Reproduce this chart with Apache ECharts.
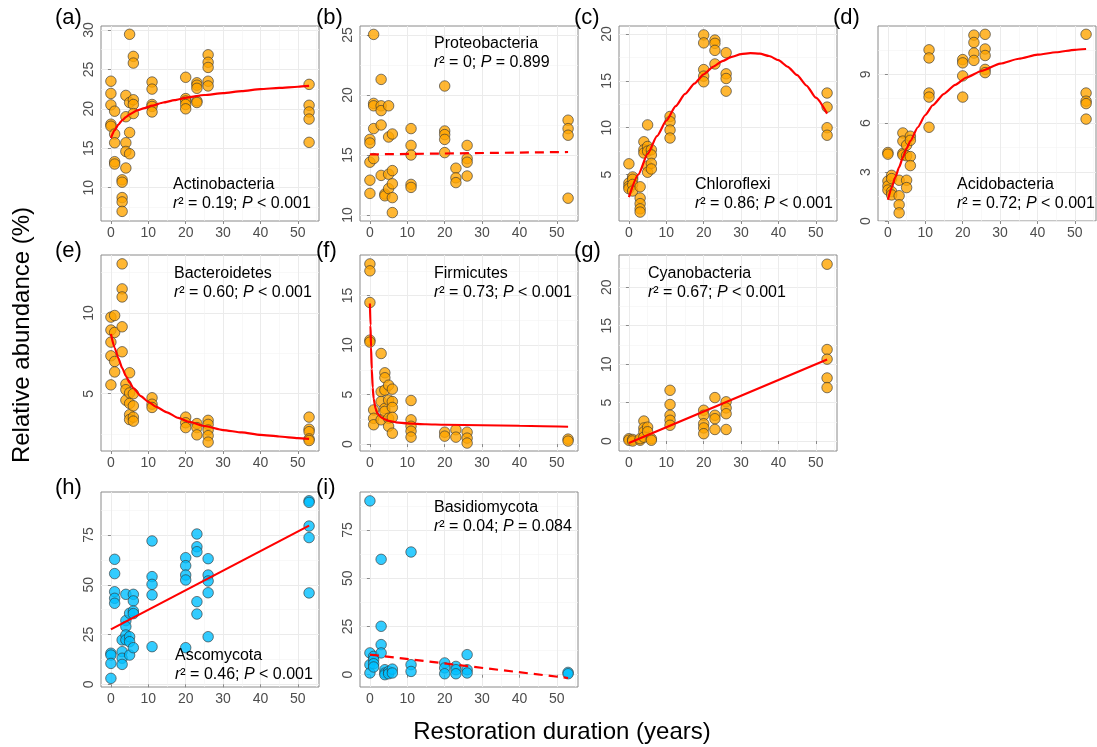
<!DOCTYPE html>
<html><head><meta charset="utf-8">
<script src="https://cdn.jsdelivr.net/npm/echarts@6/dist/echarts.min.js"></script>
<style>html,body{margin:0;padding:0;background:#fff}#c{width:1097px;height:747px}</style>
</head><body><div id="c"></div>
<script>
// ---------- tick labels ----------
const xMajorTicks = [0, 10, 20, 30, 40, 50];
const xMinorTicks = [5, 15, 25, 35, 45, 55];
const actinoTicks = [10, 15, 20, 25, 30];
const proteoTicks = [10, 15, 20, 25];
const chloroTicks = [5, 10, 15, 20];
const acidoTicks = [0, 3, 6, 9];
const bacteroTicks = [5, 10];
const firmiTicks = [0, 5, 10, 15];
const cyanoTicks = [0, 5, 10, 15, 20];
const fungiTicks = [0, 25, 50, 75];

// ---------- data: [restoration duration, relative abundance] ----------
const actinobacteria = [
  [0,23.5],[0,21.95],[0,20.5],[0,18.05],[0,17.8],
  [1,19.7],[1,16.8],[1,15.7],[1,13.3],[1,13.0],
  [3,11.0],[3,10.7],[3,8.75],[3,8.2],[3,7.0],
  [4,21.7],[4,19.0],[4,15.7],[4,14.6],[4,12.5],
  [5,29.45],[5,20.8],[5,17.0],[5,14.3],
  [6,26.65],[6,25.8],[6,21.15],[6,20.55],[6,19.4],
  [11,23.4],[11,22.5],[11,20.55],[11,20.3],[11,19.6],
  [20,24.0],[20,21.3],[20,21.0],[20,20.55],[20,20.0],
  [23,23.3],[23,23.0],[23,22.6],[23,21.0],[23,20.8],
  [26,26.85],[26,25.9],[26,25.25],[26,23.5],[26,22.9],
  [53,23.1],[53,20.45],[53,19.6],[53,18.7],[53,15.75]
];
const actinoFit = [[0,16.3],[1,17.3],[2,18.0],[3,18.55],[4,18.95],[5,19.3],[7,19.8],[9,20.1],[11,20.4],[14,20.8],[17,21.1],[20,21.4],[25,21.75],[30,22.0],[35,22.25],[40,22.5],[45,22.65],[50,22.8],[53,22.9]];

const proteobacteria = [
  [0,16.3],[0,16.0],[0,14.4],[0,12.9],[0,11.8],
  [1,25.05],[1,19.3],[1,19.1],[1,17.2],[1,14.7],
  [3,21.3],[3,19.1],[3,18.7],[3,17.5],[3,13.3],
  [4,11.75],[4,11.6],
  [5,19.1],[5,16.5],[5,13.4],[5,12.2],
  [6,16.75],[6,13.7],[6,12.6],[6,11.45],[6,10.2],
  [11,17.2],[11,15.8],[11,15.0],[11,12.55],[11,12.3],
  [20,20.75],[20,17.0],[20,16.7],[20,16.3],[20,15.2],
  [23,13.9],[23,13.1],[23,12.7],
  [26,15.8],[26,14.7],[26,14.4],[26,13.25],
  [53,17.9],[53,17.2],[53,16.65],[53,11.4]
];
const proteoFit = [[0,15.05],[53,15.25]];

const chloroflexi = [
  [0,6.15],[0,4.1],[0,3.75],[0,3.5],
  [1,4.75],[1,4.5],[1,3.95],[1,3.25],
  [3,3.7],[3,2.5],[3,1.9],[3,1.35],[3,1.0],
  [4,8.5],[4,7.65],[4,7.3],
  [5,10.3],[5,8.0],[5,7.5],[5,5.9],[5,5.25],
  [6,7.65],[6,7.1],[6,6.2],[6,5.6],
  [11,11.2],[11,10.65],[11,9.75],[11,8.9],
  [20,19.9],[20,19.05],[20,16.2],[20,15.5],[20,14.9],
  [23,19.35],[23,19.0],[23,18.25],[23,16.8],
  [26,18.0],[26,15.75],[26,15.25],[26,13.9],
  [53,13.7],[53,12.2],[53,10.0],[53,9.2]
];
const chloroFit = [[0,2.6],[2.5,5.0],[5,7.2],[7.5,9.1],[10,10.75],[12.5,12.3],[15,13.6],[17.5,14.7],[20,15.7],[22.5,16.5],[25,17.1],[27.5,17.55],[30,17.85],[32.5,17.95],[35,17.9],[37.5,17.65],[40,17.2],[42.5,16.5],[45,15.6],[47.5,14.5],[50,13.2],[53,11.5]];

const acidobacteria = [
  [0,4.2],[0,4.1],[0,2.45],[0,2.15],[0,1.9],
  [1,2.8],[1,2.6],[1,1.8],[1,1.6],
  [3,2.5],[3,1.55],[3,1.0],[3,0.5],
  [4,5.4],[4,4.9],[4,4.15],[4,4.05],
  [5,4.65],[5,4.0],[5,2.5],[5,2.05],
  [6,5.2],[6,4.95],[6,3.95],[6,3.4],
  [11,10.5],[11,10.0],[11,7.85],[11,7.6],[11,5.75],
  [20,9.9],[20,9.7],[20,8.9],[20,7.6],
  [23,11.4],[23,10.95],[23,10.3],[23,9.85],
  [26,11.45],[26,10.55],[26,10.15],[26,9.3],[26,9.1],
  [53,11.45],[53,7.85],[53,7.35],[53,7.2],[53,6.25]
];
const acidoFit = [[0,1.3],[1,2.05],[2,2.7],[3,3.3],[4,3.9],[5,4.45],[6,4.9],[8,5.75],[10,6.5],[12,7.1],[15,7.8],[18,8.35],[21,8.8],[25,9.2],[30,9.65],[35,9.95],[40,10.2],[45,10.35],[50,10.5],[53,10.55]];

const bacteroidetes = [
  [0,9.75],[0,8.95],[0,8.2],[0,7.35],[0,5.55],
  [1,9.85],[1,8.8],[1,7.0],[1,6.35],
  [3,13.05],[3,11.5],[3,11.0],[3,9.15],[3,7.6],
  [4,5.6],[4,5.25],[4,4.6],
  [5,6.3],[5,5.05],[5,4.4],[5,3.7],[5,3.4],
  [6,5.0],[6,4.25],[6,3.55],[6,3.3],
  [11,4.75],[11,4.35],[11,4.15],
  [20,3.55],[20,3.2],[20,2.9],
  [23,3.15],[23,2.9],[23,2.45],
  [26,3.35],[26,3.1],[26,2.75],[26,2.4],[26,2.0],
  [53,3.55],[53,2.8],[53,2.65],[53,2.2],[53,2.1]
];
const bacteroFit = [[0,8.7],[1,7.85],[2,7.2],[3,6.6],[4,6.1],[5,5.7],[6,5.35],[8,4.85],[10,4.5],[12,4.2],[15,3.85],[18,3.5],[21,3.25],[25,3.0],[30,2.75],[35,2.6],[40,2.45],[45,2.35],[50,2.25],[53,2.2]];

const firmicutes = [
  [0,18.2],[0,17.5],[0,14.3],[0,10.5],[0,10.3],
  [1,3.45],[1,2.6],[1,1.95],
  [3,9.15],[3,5.3],[3,4.3],[3,2.45],
  [4,7.2],[4,6.7],[4,5.45],[4,3.6],[4,3.3],
  [5,5.95],[5,4.45],[5,2.6],[5,1.8],
  [6,5.55],[6,4.3],[6,3.7],[6,2.7],[6,1.1],
  [11,4.4],[11,2.45],[11,1.8],[11,1.3],[11,0.7],
  [20,1.2],[20,0.8],
  [23,1.45],[23,0.7],
  [26,1.2],[26,0.6],[26,0.1],
  [53,0.5],[53,0.3]
];
const firmiFit = [[0,14.2],[0.15,12.0],[0.3,9.8],[0.5,7.6],[0.75,5.7],[1,4.6],[1.5,3.6],[2,3.1],[3,2.7],[4,2.5],[5,2.35],[7,2.2],[10,2.1],[15,2.0],[20,1.95],[30,1.9],[40,1.85],[53,1.75]];

const cyanobacteria = [
  [0,0.3],[0,0.1],
  [1,0.2],[1,0.0],
  [3,0.1],[3,0.3],
  [4,2.6],[4,1.7],[4,1.2],[4,0.5],
  [5,1.8],[5,1.2],
  [6,0.3],[6,0.1],
  [11,6.6],[11,4.75],[11,3.35],[11,2.7],[11,2.05],
  [20,4.0],[20,3.35],[20,2.25],[20,1.7],[20,0.95],
  [23,5.65],[23,3.35],[23,2.9],[23,1.5],
  [26,5.1],[26,4.3],[26,3.55],[26,1.5],
  [53,23.0],[53,11.9],[53,10.65],[53,8.2],[53,6.95]
];
const cyanoFit = [[0,-0.25],[53,10.6]];

const ascomycota = [
  [0,15.6],[0,14.7],[0,10.5],[0,3.0],
  [1,62.8],[1,55.6],[1,46.5],[1,43.2],[1,40.7],
  [3,22.3],[3,16.4],[3,13.1],[3,10.0],
  [4,45.2],[4,32.0],[4,29.0],[4,24.8],[4,22.3],
  [5,35.7],[5,23.9],[5,21.4],[5,14.7],
  [6,45.2],[6,41.9],[6,36.8],[6,35.5],[6,18.4],
  [11,72.0],[11,54.1],[11,50.2],[11,44.9],[11,18.9],
  [20,63.6],[20,59.6],[20,54.9],[20,52.4],[20,18.4],
  [23,75.5],[23,69.1],[23,66.6],[23,41.5],[23,35.3],
  [26,63.1],[26,54.9],[26,51.9],[26,46.0],[26,23.9],
  [53,92.2],[53,91.4],[53,79.5],[53,73.7],[53,45.9]
];
const ascoFit = [[0,27.6],[53,79.7]];

const basidiomycota = [
  [0,90.1],[0,11.3],[0,5.2],[0,0.9],
  [1,9.5],[1,7.8],[1,5.7],[1,4.0],
  [3,59.8],[3,25.1],[3,15.6],[3,11.3],
  [4,2.6],[4,0.9],[4,0.0],
  [5,1.7],[5,0.5],
  [6,2.9],[6,0.9],
  [11,63.6],[11,5.2],[11,1.7],
  [20,6.1],[20,3.5],[20,0.5],
  [23,4.3],[23,2.6],[23,0.5],
  [26,10.4],[26,2.6],[26,0.9],
  [53,1.2],[53,0.5]
];
const basidioFit = [[0,10.4],[53,-1.7]];

// ---------- layout / style ----------
const FONT = '"Liberation Sans", Arial, Helvetica, sans-serif';
const ORANGE = '#FFA500', BLUE = '#00BFFF';
const colLeft = [101, 360, 619, 878];
const rowTop = [26, 255, 492];
const rowH = [195, 196, 195];
const PW = 218;
const tagX = [55, 316, 574, 833];
const tagY = [18, 251, 488];

const panels = [
  {tag:'(a)', name:'Actinobacteria', stat:['0.19','<','0.001'], data:actinobacteria, fit:actinoFit, dashed:false, color:ORANGE, yr:[5.78,30.5], yt:actinoTicks, row:0, col:0, tx:173, ty:185},
  {tag:'(b)', name:'Proteobacteria', stat:['0','=','0.899'], data:proteobacteria, fit:proteoFit, dashed:true, color:ORANGE, yr:[9.5,25.75], yt:proteoTicks, row:0, col:1, tx:434, ty:44},
  {tag:'(c)', name:'Chloroflexi', stat:['0.86','<','0.001'], data:chloroflexi, fit:chloroFit, dashed:false, color:ORANGE, yr:[0.05,20.85], yt:chloroTicks, row:0, col:2, tx:695, ty:185},
  {tag:'(d)', name:'Acidobacteria', stat:['0.72','<','0.001'], data:acidobacteria, fit:acidoFit, dashed:false, color:ORANGE, yr:[0,11.96], yt:acidoTicks, row:0, col:3, tx:957, ty:185},
  {tag:'(e)', name:'Bacteroidetes', stat:['0.60','<','0.001'], data:bacteroidetes, fit:bacteroFit, dashed:false, color:ORANGE, yr:[1.45,13.6], yt:bacteroTicks, row:1, col:0, tx:174, ty:274},
  {tag:'(f)', name:'Firmicutes', stat:['0.73','<','0.001'], data:firmicutes, fit:firmiFit, dashed:false, color:ORANGE, yr:[-0.7,19.1], yt:firmiTicks, row:1, col:1, tx:434, ty:274},
  {tag:'(g)', name:'Cyanobacteria', stat:['0.67','<','0.001'], data:cyanobacteria, fit:cyanoFit, dashed:false, color:ORANGE, yr:[-1.3,24.2], yt:cyanoTicks, row:1, col:2, tx:648, ty:274},
  {tag:'(h)', name:'Ascomycota', stat:['0.46','<','0.001'], data:ascomycota, fit:ascoFit, dashed:false, color:BLUE, yr:[-1.35,96.6], yt:fungiTicks, row:2, col:0, tx:175, ty:656},
  {tag:'(i)', name:'Basidiomycota', stat:['0.04','=','0.084'], data:basidiomycota, fit:basidioFit, dashed:true, color:BLUE, yr:[-6.37,94.7], yt:fungiTicks, row:2, col:1, tx:434, ty:508}
];

function minorOf(ticks) {
  const step = ticks[1] - ticks[0];
  const out = [ticks[0] - step / 2];
  ticks.forEach(t => out.push(t + step / 2));
  return out;
}

const grid = [], xAxis = [], yAxis = [], series = [], graphic = [];
const labelStyle = {color:'#4D4D4D', fontSize:14, fontFamily:FONT};
const txt = (x, y, text, size) => ({type:'text', x, y, z:100, silent:true,
  style:{text, font:size + 'px ' + FONT, fill:'#000', textVerticalAlign:'middle'}});

panels.forEach((p, i) => {
  grid.push({left:colLeft[p.col], top:rowTop[p.row], width:PW, height:rowH[p.row], show:true, backgroundColor:'#fff', borderColor:'#8a8a8a', borderWidth:1, containLabel:false, outerBoundsMode:'none'});
  const xr = [-2.65, 55.65];
  xAxis.push({type:'value', gridIndex:i, min:xr[0], max:xr[1], axisLine:{show:false},
    axisTick:{show:true, length:3, lineStyle:{color:'#8a8a8a'}, customValues:xMajorTicks},
    axisLabel:Object.assign({margin:5, customValues:xMajorTicks}, labelStyle),
    splitLine:{show:true, lineStyle:{color:'#EBEBEB', width:1}}});
  xAxis.push({type:'value', gridIndex:i, min:xr[0], max:xr[1], axisLine:{show:false},
    axisTick:{show:false, customValues:xMinorTicks}, axisLabel:{show:false, customValues:xMinorTicks},
    splitLine:{show:true, lineStyle:{color:'#F3F3F3', width:0.6}}});
  const ym = minorOf(p.yt);
  yAxis.push({type:'value', gridIndex:i, min:p.yr[0], max:p.yr[1], axisLine:{show:false},
    axisTick:{show:true, length:3, lineStyle:{color:'#8a8a8a'}, customValues:p.yt},
    axisLabel:Object.assign({margin:5, rotate:90, customValues:p.yt}, labelStyle),
    splitLine:{show:true, lineStyle:{color:'#EBEBEB', width:1}}});
  yAxis.push({type:'value', gridIndex:i, min:p.yr[0], max:p.yr[1], axisLine:{show:false},
    axisTick:{show:false, customValues:ym}, axisLabel:{show:false, customValues:ym},
    splitLine:{show:true, lineStyle:{color:'#F3F3F3', width:0.6}}});
  series.push({type:'scatter', xAxisIndex:2*i, yAxisIndex:2*i, data:p.data, symbol:'circle', symbolSize:10.5,
    itemStyle:{color:p.color, borderColor:'#333', borderWidth:0.8}, silent:true, z:2});
  series.push({type:'line', xAxisIndex:2*i, yAxisIndex:2*i, data:p.fit, showSymbol:false, symbol:'none',
    smooth:p.fit.length > 2 ? 0.2 : false, smoothMonotone:'x', silent:true, z:3,
    lineStyle:{color:'#FF0000', width:2.2, type:p.dashed ? [9, 6] : 'solid'}});
  graphic.push(txt(tagX[p.col], tagY[p.row], p.tag, 22));
  graphic.push(txt(p.tx, p.ty, p.name, 16));
  graphic.push({type:'text', x:p.tx, y:p.ty + 19, z:100, silent:true, style:{
    text:'{i|r}{n|² = ' + p.stat[0] + '; }{i|P}{n| ' + p.stat[1] + ' ' + p.stat[2] + '}',
    textVerticalAlign:'middle', fill:'#000', font:'16px ' + FONT,
    rich:{i:{fontStyle:'italic', fontSize:16, fontFamily:FONT, fill:'#000'}, n:{fontSize:16, fontFamily:FONT, fill:'#000'}}}});
});

graphic.push({type:'text', x:22, y:335, z:100, rotation:Math.PI/2, silent:true,
  style:{text:'Relative abundance (%)', font:'24px ' + FONT, fill:'#000', textAlign:'center', textVerticalAlign:'middle'}});
graphic.push({type:'text', x:562, y:732, z:100, silent:true,
  style:{text:'Restoration duration (years)', font:'24px ' + FONT, fill:'#000', textAlign:'center', textVerticalAlign:'middle'}});

const chart = echarts.init(document.getElementById('c'), null, {renderer:'canvas', width:1097, height:747});
chart.setOption({animation:false, backgroundColor:'#fff', grid, xAxis, yAxis, series, graphic});
</script></body></html>
